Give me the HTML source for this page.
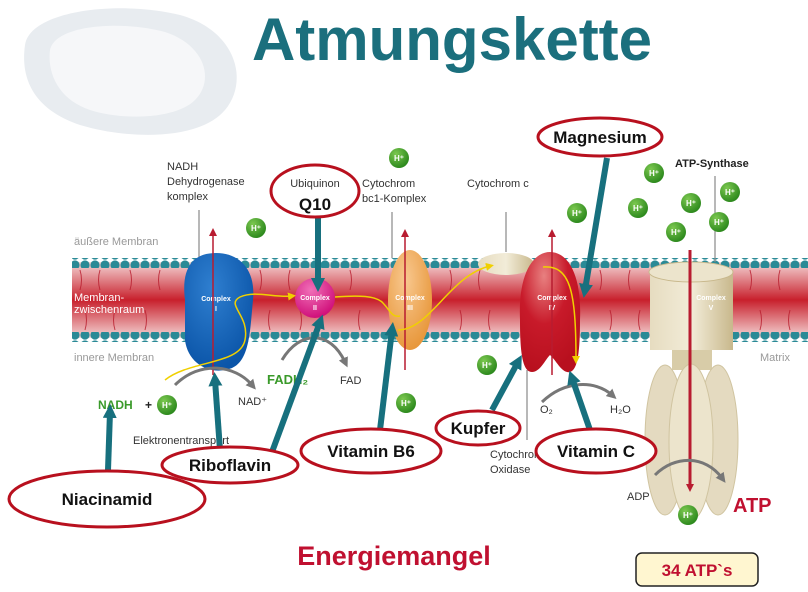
<!DOCTYPE html>
<html><head><meta charset="utf-8"><style>
html,body{margin:0;padding:0;background:#fff;}
svg{display:block;font-family:"Liberation Sans",sans-serif;}
</style></head><body>
<svg width="808" height="592" viewBox="0 0 808 592" xmlns="http://www.w3.org/2000/svg">
<defs>
<linearGradient id="mem" x1="0" y1="0" x2="0" y2="1">
<stop offset="0" stop-color="#f4d6d6"/><stop offset="0.5" stop-color="#c8202c"/><stop offset="1" stop-color="#f4d6d6"/></linearGradient>
<radialGradient id="blue" cx="0.4" cy="0.3" r="0.7"><stop offset="0" stop-color="#2f7fd0"/><stop offset="1" stop-color="#0b55a8"/></radialGradient>
<radialGradient id="pink" cx="0.4" cy="0.3" r="0.7"><stop offset="0" stop-color="#f070b8"/><stop offset="1" stop-color="#d0107a"/></radialGradient>
<radialGradient id="orange" cx="0.4" cy="0.3" r="0.7"><stop offset="0" stop-color="#f8c890"/><stop offset="1" stop-color="#e8983c"/></radialGradient>
<radialGradient id="red" cx="0.4" cy="0.2" r="0.8"><stop offset="0" stop-color="#e88080"/><stop offset="0.5" stop-color="#c81a2a"/><stop offset="1" stop-color="#b8101e"/></radialGradient>
<radialGradient id="green" cx="0.35" cy="0.3" r="0.7"><stop offset="0" stop-color="#7cc850"/><stop offset="1" stop-color="#2e8a1e"/></radialGradient>
<linearGradient id="beige" x1="0" y1="0" x2="1" y2="0"><stop offset="0" stop-color="#e6dcc0"/><stop offset="0.5" stop-color="#f2ecd8"/><stop offset="1" stop-color="#c8b88c"/></linearGradient>
<pattern id="heads" width="10" height="10" patternUnits="userSpaceOnUse"><circle cx="5" cy="5" r="4.6" fill="#2a8a96"/></pattern>
<marker id="ar" markerUnits="userSpaceOnUse" markerWidth="8" markerHeight="8" refX="4" refY="4" orient="auto"><path d="M0,0 L8,4 L0,8 z" fill="#b81c30"/></marker>
<marker id="at" markerUnits="userSpaceOnUse" markerWidth="14" markerHeight="14" refX="6" refY="7" orient="auto"><path d="M0,0 L14,7 L0,14 z" fill="#17707e"/></marker>
<marker id="ag" markerUnits="userSpaceOnUse" markerWidth="10" markerHeight="10" refX="4" refY="5" orient="auto"><path d="M0,0 L10,5 L0,10 z" fill="#777"/></marker>
<marker id="ay" markerUnits="userSpaceOnUse" markerWidth="8" markerHeight="8" refX="4" refY="4" orient="auto"><path d="M0,0 L8,4 L0,8 z" fill="#f0d000"/></marker>
</defs>

<!-- mitochondrion -->
<path d="M25,45 C30,10 120,0 180,15 C235,30 250,80 225,110 C200,140 130,140 80,125 C35,110 20,80 25,45 z" fill="#e8ecf0"/>
<path d="M50,50 C55,25 120,20 165,32 C205,45 215,80 195,100 C175,120 120,120 90,110 C60,100 47,75 50,50 z" fill="#f6f7f9"/>

<text x="452" y="60" text-anchor="middle" font-size="60" font-weight="bold" fill="#1b6f7d">Atmungskette</text>

<!-- membrane -->
<rect x="72" y="262" width="736" height="76" fill="url(#mem)"/>
<rect x="72" y="258" width="736" height="10" fill="url(#heads)"/>
<rect x="72" y="332" width="736" height="10" fill="url(#heads)"/>
<g stroke="#b81c2c" stroke-width="1" fill="none" opacity="0.8">
<path d="M80,270 q3,10 0,20 M100,270 q-3,10 0,20 M130,270 q3,10 0,20 M160,270 q-3,10 0,20 M260,270 q3,10 0,20 M290,270 q-3,10 0,20 M350,270 q3,10 0,20 M450,270 q3,10 0,20 M480,270 q-3,10 0,20 M600,270 q3,10 0,20 M630,270 q-3,10 0,20 M750,270 q3,10 0,20 M780,270 q-3,10 0,20"/>
<path d="M85,310 q3,10 0,20 M115,310 q-3,10 0,20 M145,310 q3,10 0,20 M270,310 q-3,10 0,20 M300,310 q3,10 0,20 M360,310 q-3,10 0,20 M460,310 q3,10 0,20 M490,310 q-3,10 0,20 M610,310 q3,10 0,20 M640,310 q-3,10 0,20 M760,310 q3,10 0,20 M790,310 q-3,10 0,20"/>
</g>
<text x="74" y="301" font-size="11" fill="#fff">Membran-</text>
<text x="74" y="313" font-size="11" fill="#fff">zwischenraum</text>
<text x="74" y="245" font-size="11" fill="#999">äußere Membran</text>
<text x="74" y="361" font-size="11" fill="#999">innere Membran</text>
<text x="760" y="361" font-size="11" fill="#999">Matrix</text>

<!-- labels -->
<g font-size="11" fill="#333">
<text x="167" y="170">NADH</text><text x="167" y="185">Dehydrogenase</text><text x="167" y="200">komplex</text>
<text x="362" y="187">Cytochrom</text><text x="362" y="202">bc1-Komplex</text>
<text x="467" y="187">Cytochrom c</text>
<text x="133" y="444">Elektronentransport</text>
<text x="490" y="458">Cytochrom c</text><text x="490" y="473">Oxidase</text>
<text x="540" y="413">O₂</text><text x="610" y="413">H₂O</text>
<text x="238" y="405">NAD⁺</text><text x="340" y="384">FAD</text>
<text x="627" y="500">ADP</text>
</g>
<text x="675" y="167" font-size="11" font-weight="bold" fill="#222">ATP-Synthase</text>
<g stroke="#888" stroke-width="1.2">
<line x1="199" y1="210" x2="199" y2="258"/><line x1="392" y1="212" x2="392" y2="258"/>
<line x1="506" y1="212" x2="506" y2="252"/><line x1="715" y1="176" x2="715" y2="262"/>
<line x1="527" y1="370" x2="527" y2="440"/>
</g>

<!-- complexes -->
<path d="M185,300 C180,260 200,253 216,253 C240,253 256,270 253,300 C250,330 250,360 232,368 C212,376 188,365 185,340 z" fill="url(#blue)"/>
<circle cx="315" cy="298" r="20" fill="url(#pink)"/>
<ellipse cx="410" cy="300" rx="22" ry="50" fill="url(#orange)"/>
<ellipse cx="506" cy="264" rx="28" ry="11" fill="url(#beige)"/>
<path d="M520,320 C518,270 535,252 550,252 C568,252 582,275 580,320 C580,350 578,370 570,372 C562,374 556,360 550,355 C545,360 540,372 532,372 C522,372 520,350 520,320 z" fill="url(#red)"/>
<path d="M650,272 L650,350 L733,350 L733,272 z" fill="url(#beige)"/>
<ellipse cx="691" cy="272" rx="42" ry="10" fill="#ece4cc" stroke="#c8b88c"/>
<rect x="672" y="350" width="40" height="20" fill="#d8cca8"/>
<ellipse cx="665" cy="440" rx="20" ry="75" fill="#e4dac0" stroke="#d0c4a0"/>
<ellipse cx="718" cy="440" rx="20" ry="75" fill="#e4dac0" stroke="#d0c4a0"/>
<ellipse cx="691" cy="442" rx="22" ry="78" fill="#ece4cc" stroke="#d0c4a0"/>

<g font-size="7" fill="#fff" text-anchor="middle" font-weight="bold">
<text x="216" y="301">Complex</text><text x="216" y="311">I</text>
<text x="315" y="300">Complex</text><text x="315" y="310">II</text>
<text x="410" y="300">Complex</text><text x="410" y="310">III</text>
<text x="552" y="300">Complex</text><text x="552" y="310">IV</text>
<text x="711" y="300">Complex</text><text x="711" y="310">V</text>
</g>

<!-- red arrows -->
<g stroke="#b81c30" stroke-width="1.5" marker-end="url(#ar)">
<line x1="213" y1="375" x2="213" y2="232"/>
<line x1="405" y1="370" x2="405" y2="233"/>
<line x1="552" y1="375" x2="552" y2="233"/>
</g>
<line x1="690" y1="250" x2="690" y2="488" stroke="#b81c30" stroke-width="3" marker-end="url(#ar)"/>

<!-- yellow electron path -->
<g stroke="#f0d000" stroke-width="1.5" fill="none">
<path d="M165,380 C190,360 240,365 245,340 C250,315 225,305 240,297 C255,290 275,298 292,296" marker-end="url(#ay)"/>
<path d="M335,297 C360,295 375,296 382,302 C390,310 392,318 400,316" />
<path d="M398,330 C430,330 450,275 490,266" marker-end="url(#ay)"/>
<path d="M543,267 C570,265 576,290 576,360" marker-end="url(#ay)"/>
</g>

<!-- gray arcs -->
<g stroke="#777" stroke-width="3" fill="none" marker-end="url(#ag)">
<path d="M175,385 C200,360 235,365 252,385"/>
<path d="M282,360 C300,330 330,330 345,362"/>
<path d="M542,402 C565,380 595,380 612,395"/>
<path d="M655,475 C675,455 705,455 722,478"/>
</g>
<text x="267" y="384" font-size="13" font-weight="bold" fill="#3a9a2a">FADH₂</text>
<text x="98" y="409" font-size="12" font-weight="bold" fill="#3a9a2a">NADH</text>
<text x="145" y="409" font-size="12" font-weight="bold" fill="#222">+</text>
<text x="733" y="512" font-size="20" font-weight="bold" fill="#c01030">ATP</text>

<!-- H+ -->
<g font-size="8" fill="#fff" text-anchor="middle" font-weight="bold">
<g><circle cx="256" cy="228" r="10" fill="url(#green)"/><text x="256" y="231">H⁺</text></g>
<g><circle cx="399" cy="158" r="10" fill="url(#green)"/><text x="399" y="161">H⁺</text></g>
<g><circle cx="577" cy="213" r="10" fill="url(#green)"/><text x="577" y="216">H⁺</text></g>
<g><circle cx="654" cy="173" r="10" fill="url(#green)"/><text x="654" y="176">H⁺</text></g>
<g><circle cx="638" cy="208" r="10" fill="url(#green)"/><text x="638" y="211">H⁺</text></g>
<g><circle cx="691" cy="203" r="10" fill="url(#green)"/><text x="691" y="206">H⁺</text></g>
<g><circle cx="730" cy="192" r="10" fill="url(#green)"/><text x="730" y="195">H⁺</text></g>
<g><circle cx="676" cy="232" r="10" fill="url(#green)"/><text x="676" y="235">H⁺</text></g>
<g><circle cx="719" cy="222" r="10" fill="url(#green)"/><text x="719" y="225">H⁺</text></g>
<g><circle cx="487" cy="365" r="10" fill="url(#green)"/><text x="487" y="368">H⁺</text></g>
<g><circle cx="406" cy="403" r="10" fill="url(#green)"/><text x="406" y="406">H⁺</text></g>
<g><circle cx="167" cy="405" r="10" fill="url(#green)"/><text x="167" y="408">H⁺</text></g>
<g><circle cx="688" cy="515" r="10" fill="url(#green)"/><text x="688" y="518">H⁺</text></g>
</g>

<!-- teal arrows -->
<g stroke="#17707e" stroke-width="6" marker-end="url(#at)">
<line x1="607" y1="158" x2="585" y2="290"/>
<line x1="318" y1="218" x2="318" y2="284"/>
<line x1="220" y1="450" x2="215" y2="380"/>
<line x1="272" y1="452" x2="320" y2="322"/>
<line x1="108" y1="470" x2="110" y2="412"/>
<line x1="380" y1="430" x2="392" y2="330"/>
<line x1="492" y1="410" x2="518" y2="362"/>
<line x1="590" y1="430" x2="572" y2="378"/>
</g>

<!-- red ellipses -->
<g fill="#fff" stroke="#b8101e" stroke-width="3">
<ellipse cx="600" cy="137" rx="62" ry="19"/>
<ellipse cx="315" cy="191" rx="44" ry="26"/>
<ellipse cx="230" cy="465" rx="68" ry="18"/>
<ellipse cx="107" cy="499" rx="98" ry="28"/>
<ellipse cx="371" cy="451" rx="70" ry="22"/>
<ellipse cx="478" cy="428" rx="42" ry="17"/>
<ellipse cx="596" cy="451" rx="60" ry="22"/>
</g>
<text x="315" y="187" font-size="11" fill="#333" text-anchor="middle">Ubiquinon</text>
<g font-weight="bold" fill="#111" text-anchor="middle" font-size="17">
<text x="600" y="143">Magnesium</text>
<text x="315" y="210">Q10</text>
<text x="230" y="471">Riboflavin</text>
<text x="107" y="505">Niacinamid</text>
<text x="371" y="457">Vitamin B6</text>
<text x="478" y="434">Kupfer</text>
<text x="596" y="457">Vitamin C</text>
</g>

<text x="394" y="565" font-size="27" font-weight="bold" fill="#c01030" text-anchor="middle">Energiemangel</text>
<rect x="636" y="553" width="122" height="33" rx="6" fill="#fff6d0" stroke="#222" stroke-width="1.5"/>
<text x="697" y="576" font-size="17" font-weight="bold" fill="#c01030" text-anchor="middle">34 ATP`s</text>
</svg>
</body></html>
